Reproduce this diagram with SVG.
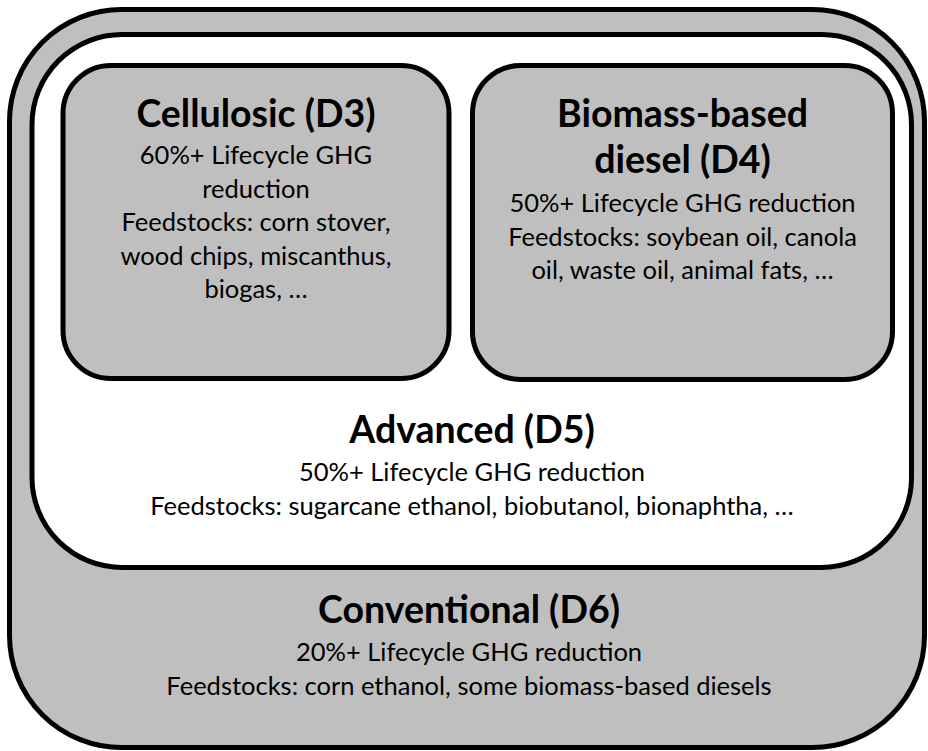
<svg xmlns="http://www.w3.org/2000/svg" width="928" height="751" viewBox="0 0 928 751">
<style>
.box{stroke:#000;stroke-width:5}
.gray{fill:#bfbfbf}
.white{fill:#fff}
text{font-family:Lato,"Open Sans",sans-serif;fill:#000;text-anchor:middle}
.t{font-size:37.5px;font-weight:bold}
.b{font-size:25.5px}
</style>
<rect width="928" height="751" fill="#fff"/>
<g id="conventional">
<rect class="box gray" x="9.5" y="9.5" width="915" height="738" rx="112"/>
<text class="t" x="469" y="623">Conventional (D6)</text>
<text class="b" x="469" y="661">20%+ Lifecycle GHG reduction</text>
<text class="b" x="469" y="695">Feedstocks: corn ethanol, some biomass-based diesels</text>
</g>
<g id="advanced">
<rect class="box white" x="32" y="34.5" width="879.5" height="533" rx="90"/>
<text class="t" x="472" y="443">Advanced (D5)</text>
<text class="b" x="472" y="481">50%+ Lifecycle GHG reduction</text>
<text class="b" x="472" y="514.5">Feedstocks: sugarcane ethanol, biobutanol, bionaphtha, …</text>
</g>
<g id="cellulosic">
<rect class="box gray" x="63" y="65.5" width="386" height="313" rx="48"/>
<text class="t" x="256" y="127">Cellulosic (D3)</text>
<text class="b" x="256" y="164">60%+ Lifecycle GHG</text>
<text class="b" x="256" y="197.5">reduction</text>
<text class="b" x="256" y="231">Feedstocks: corn stover,</text>
<text class="b" x="256" y="264.5">wood chips, miscanthus,</text>
<text class="b" x="256" y="298">biogas, …</text>
</g>
<g id="biomass-diesel">
<rect class="box gray" x="472.5" y="65.5" width="420" height="314" rx="48"/>
<text class="t" x="682.5" y="127">Biomass-based</text>
<text class="t" x="682.5" y="173">diesel (D4)</text>
<text class="b" x="682.5" y="212">50%+ Lifecycle GHG reduction</text>
<text class="b" x="682.5" y="245.5">Feedstocks: soybean oil, canola</text>
<text class="b" x="682.5" y="279">oil, waste oil, animal fats, …</text>
</g>
<g id="connectors"></g>
</svg>
